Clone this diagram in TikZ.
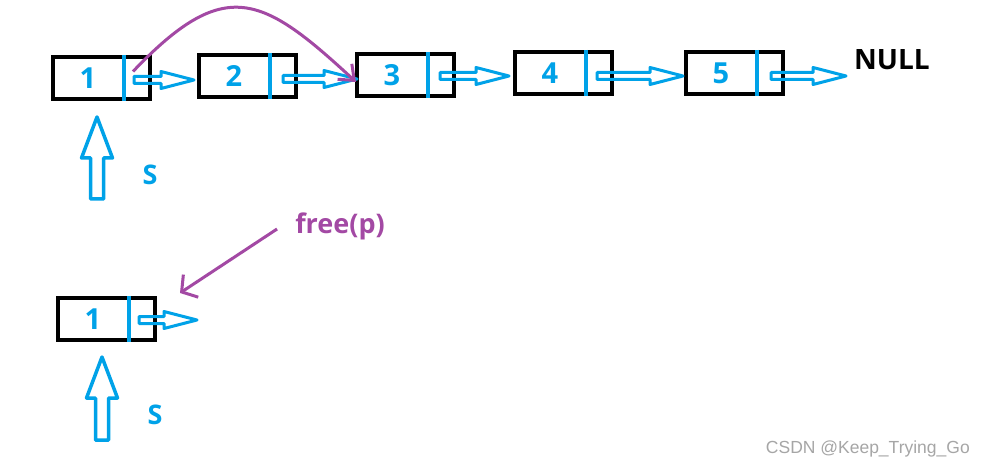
\documentclass[tikz,border=0pt]{standalone}
\usepackage{fontspec}
\setmainfont{Open Sans}
\newfontfamily\markfont{Liberation Sans}
\usetikzlibrary{arrows.meta,calc}
\definecolor{paintblue}{RGB}{0,162,232}
\definecolor{paintpurple}{RGB}{163,73,164}

\tikzset{
  cell/.style={draw=black, line width=4pt, minimum width=97pt, minimum height=42pt, inner sep=0pt},
  num/.style={text=paintblue, font=\fontsize{29}{31}\selectfont\bfseries, inner sep=0pt},
  divider/.style={draw=paintblue, line width=3.5pt},
  hollow/.style={draw=paintblue, line width=3pt, line join=round,
    to path={let \p1=(\tikztostart), \p2=(\tikztotarget) in
      (\x1,\y1+3.5pt) -- (\x2-33pt,\y1+3.5pt) -- (\x2-33pt,\y1+8.5pt) -- (\x2,\y1)
      -- (\x2-33pt,\y1-8.5pt) -- (\x2-33pt,\y1-3.5pt) -- (\x1,\y1-3.5pt) -- cycle}},
  pointer/.style={draw=paintblue, line width=3.5pt, line join=round,
    to path={let \p1=(\tikztostart), \p2=(\tikztotarget) in
      (\x1-6.5pt,\y1) -- (\x1-6.5pt,\y2-41pt) -- (\x1-15.5pt,\y2-41pt) -- (\x1,\y2)
      -- (\x1+15.5pt,\y2-41pt) -- (\x1+6.5pt,\y2-41pt) -- (\x1+6.5pt,\y1) -- cycle}},
  slabel/.style={text=paintblue, font=\fontsize{27}{29}\selectfont\bfseries, inner sep=0pt},
  jump/.style={draw=paintpurple, line width=3pt},
}

\begin{document}
\begin{tikzpicture}[x=1pt,y=-1pt]
  \useasboundingbox[fill=white] (0,0) rectangle (986,468);

  % the list
  \node[cell] (b1) at (101.5,78.5) {};
  \node[cell] (b2) at (247.5,76.5) {};
  \node[cell] (b3) at (405.5,75.5) {};
  \node[cell] (b4) at (563.5,73) {};
  \node[cell] (b5) at (734.5,73) {};
  \foreach \b/\v in {b1/1,b2/2,b3/3,b4/4,b5/5}{
    \node[num] (\b n) at ([xshift=37pt]\b.west) {\v};
    \draw[divider] ([xshift=73pt]\b.north west) -- ([xshift=73pt]\b.south west);
  }
  \node[font=\fontsize{28}{30}\selectfont\bfseries, inner sep=0pt] (null) at (892,60) {NULL};

  \draw[hollow] ([xshift=-18pt,yshift=-1.5pt]b1.east) to ([xshift=-3pt]b2.west);
  \draw[hollow] ([xshift=-15pt,yshift=-2.5pt]b2.east) to ([xshift=2pt]b3.west);
  \draw[hollow] ([xshift=-16pt,yshift=-0.5pt]b3.east) to ([xshift=-4pt]b4.west);
  \draw[hollow] ([xshift=-17pt,yshift=-3pt]b4.east) to ([xshift=-1pt]b5.west);
  \draw[hollow] ([xshift=-14pt,yshift=-3pt]b5.east) to ([xshift=-8pt]null.west);

  % head pointer
  \coordinate (s1) at (97,199);
  \coordinate (s1tip) at (97,117);
  \draw[pointer] (s1) to (s1tip);
  \node[slabel] (s1l) at (150,175) {S};

  % p->next skip
  \draw[jump, -{Straight Barb[length=13pt,width=21pt]}] ([xshift=-19pt,yshift=7pt]b1.east)
    .. controls (225,-25) and (262,-5) .. ([xshift=1pt,yshift=-6.5pt]b3.west);

  % freed node
  \node[cell] (bb) at (106.5,319) {};
  \node[num] (bbn) at ([xshift=37pt]bb.west) {1};
  \draw[divider] ([xshift=73pt]bb.north west) -- ([xshift=73pt]bb.south west);
  \coordinate (bbend) at (197,320);
  \draw[hollow] ([xshift=-18pt,yshift=-1pt]bb.east) to (bbend);

  \coordinate (s2) at (102,440);
  \coordinate (s2tip) at (102,357);
  \draw[pointer] (s2) to (s2tip);
  \node[slabel] (s2l) at (155,415) {S};

  \node[text=paintpurple, font=\fontsize{27}{29}\selectfont\bfseries, inner sep=0pt] (freep) at (340,226) {free(p)};
  \draw[jump, -{Straight Barb[length=11pt,width=27pt]}] ([xshift=-18pt,yshift=-3pt]freep.west)
    -- ([xshift=23pt,yshift=3pt]bb.north east);

  \node[text=gray!70, font=\markfont\fontsize{17.5}{19}\selectfont, inner sep=0pt, anchor=east] (mark) at (970,449) {CSDN @Keep\_Trying\_Go};
\end{tikzpicture}
\end{document}
